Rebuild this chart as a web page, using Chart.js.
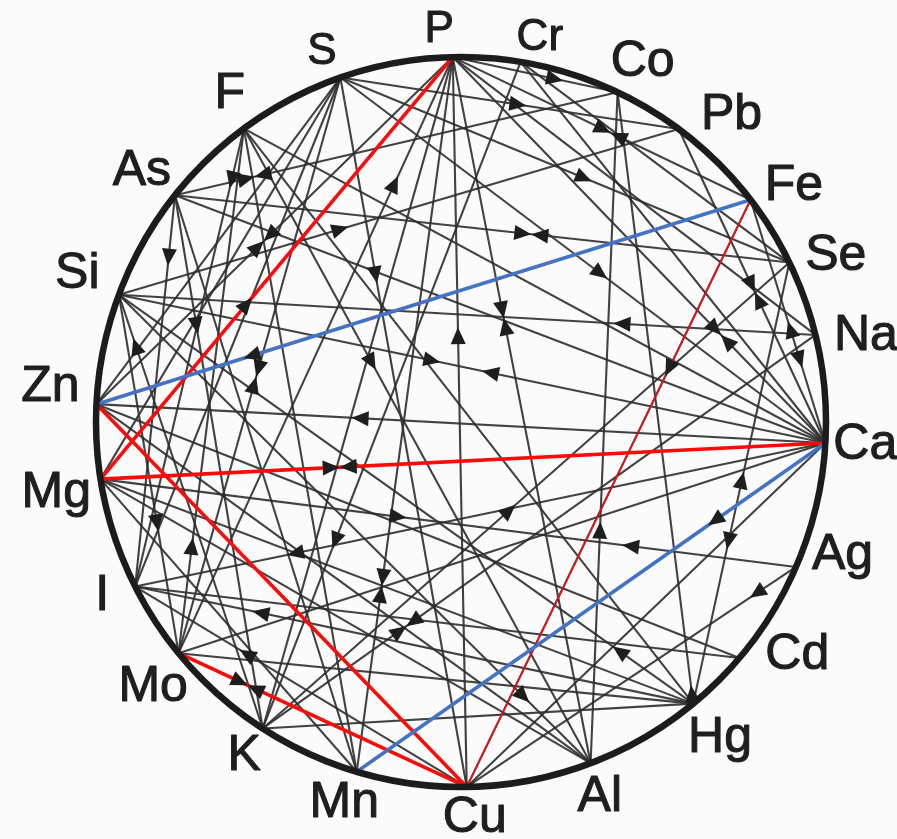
<!DOCTYPE html>
<html>
<head>
<meta charset="utf-8">
<script src="https://cdn.jsdelivr.net/npm/chart.js@4/dist/chart.umd.min.js"></script>
<style>
  html, body { margin: 0; padding: 0; background: #fbfbfb; }
  #wrap { width: 897px; height: 839px; }
</style>
</head>
<body>
<div id="wrap"><canvas id="c" width="897" height="839"></canvas></div>
<script>
// Elements placed around the ring, with their angle (degrees, counter-clockwise from east)
const nodeNames  = ['P','Cr','Co','Pb','Fe','Se','Na','Ca','Ag','Cd','Hg','Al','Cu','Mn','K','Mo','I','Mg','Zn','Si','As','F','S'];
const nodeAngles = [91.3,80.6,64.6,53.4,37.5,25.9,13.8,-3.3,-23.4,-40.3,-50.5,-69.2,-89.1,-106.6,-122.9,-140.7,-153.2,-171,177.2,159.6,141.6,126.5,109.3];
// Label placement: angle and distance from the ring centre (px)
const labelAngles = [93.2,78.4,63.2,48.6,35.3,23.9,12,-3.3,-19.2,-34.7,-50.7,-69.7,-88,-107,-123,-139.3,-154.1,-170,175.1,159,141.8,125.2,110.6];
const labelDist   = [393,392,403,409,408,410,414,405,404,409,409,400,396,399,398,406,399,411,412,411,406,401,395];

// Interaction chords between elements
const links = [
  ['P','Mg'],['P','Cu'],['P','Al'],['P','Co'],['P','Fe'],['P','Ca'],['P','Mn'],['P','Zn'],['P','Mo'],['P','Na'],['P','K'],
  ['S','Cu'],['S','Pb'],['S','Se'],['S','Ca'],['S','Mo'],['S','Zn'],['S','Mg'],['S','I'],
  ['As','Se'],['As','Co'],['As','Ca'],['As','I'],['As','K'],
  ['Si','Pb'],['Si','Ca'],['Si','Na'],['Si','K'],['Si','Mo'],['Si','Hg'],['Si','Al'],
  ['F','I'],['F','Ca'],['F','Al'],['F','Mo'],['F','Hg'],['F','Mn'],
  ['Zn','Ca'],['Zn','Fe'],['Zn','Cd'],['Zn','Cu'],['Zn','Al'],
  ['Mg','Ca'],['Mg','Ag'],['Mg','Hg'],['Mg','Mn'],['Mg','Al'],
  ['I','Ca'],['I','Hg'],['I','Cu'],['I','Cd'],
  ['Mo','Cu'],['Mo','Hg'],['Mo','Ca'],
  ['K','Na'],['K','Se'],['K','Cr'],['K','Hg'],
  ['Mn','Ca'],['Mn','As'],
  ['Cu','Fe'],['Cu','Ag'],['Cu','Ca'],
  ['Fe','Ca'],['Pb','Ca'],['Cr','Ca'],['Se','Hg'],['Hg','Co'],['Al','Co'],['Cr','Se']
];

// Direction marks: [source, target, fraction along the chord where the tip sits]
const arrows = [
  ['Cu','P',0.63], ['P','Al',0.37], ['Al','P',0.63], ['S','Cu',0.29], ['S','Pb',0.55],
  ['P','Co',0.67], ['P','Fe',0.53], ['Fe','P',0.47], ['S','Se',0.56],
  ['As','Se',0.58], ['Se','As',0.42], ['Si','Pb',0.41], ['Mo','P',0.80],
  ['As','Co',0.18], ['Co','As',0.82], ['F','I',0.13], ['Zn','P',0.47], ['P','Zn',0.53],
  ['As','I',0.18], ['K','Si',0.90], ['As','K',0.26], ['S','Mo',0.52], ['Mo','S',0.48],
  ['Ca','Zn',0.65], ['Si','Ca',0.455], ['Ca','Si',0.486], ['Mg','Ag',0.44], ['K','Se',0.48],
  ['Fe','Cu',0.30], ['P','Ca',0.72], ['Ca','P',0.28], ['S','Ca',0.55],
  ['Ca','Fe',0.50], ['Fe','Ca',0.69], ['Pb','Ca',0.52], ['Ca','Pb',0.48], ['Na','Si',0.29],
  ['Se','Hg',0.65], ['Hg','Se',0.525], ['Ag','Mg',0.25], ['Ca','Mn',0.25], ['Ag','Cu',0.14],
  ['Hg','Si',0.14], ['Hg','Co',0.03], ['Si','Al',0.87], ['Ca','I',0.78], ['Hg','I',0.79],
  ['Cu','I',0.685], ['Mo','Cu',0.24], ['Cu','Mo',0.76], ['Si','Mo',0.66], ['Mo','F',0.22],
  ['K','Na',0.26], ['Na','K',0.74], ['P','Mn',0.74], ['Mn','P',0.26], ['Mg','Ca',0.33], ['Ca','Mg',0.67],
  ['Cr','K',0.73], ['F','Al',0.38], ['Al','Co',0.36], ['Fe','Zn',0.775], ['Mg','P',0.43]
];

// Highlighted pathways
const redLinks = [['P','Mg'],['Zn','Cu'],['Mg','Ca'],['Mo','Cu']];
const thinRedLinks = [['Cu','Fe']];
const blueLinks = [['Zn','Fe'],['Mn','Ca']];

// ---- geometry in data units (ring radius = 1) ----
const W = 897, H = 839, CX = 461, CY = 422, RPX = 365;
const xMin = -CX / RPX, xMax = (W - CX) / RPX;
const yMax = CY / RPX, yMin = -(H - CY) / RPX;

const rad = d => d * Math.PI / 180;
const nodePos = {};
nodeNames.forEach((n, i) => {
  nodePos[n] = { x: Math.cos(rad(nodeAngles[i])), y: Math.sin(rad(nodeAngles[i])) };
});

function chordDataset(pair, color, width, order) {
  return {
    data: [nodePos[pair[0]], nodePos[pair[1]]],
    showLine: true,
    borderColor: color,
    borderWidth: width,
    pointRadius: 0,
    pointHoverRadius: 0,
    borderCapStyle: 'round',
    fill: false,
    order: order
  };
}

const datasets = [];
blueLinks.forEach(p => datasets.push(chordDataset(p, '#4472c4', 3.6, 0)));
redLinks.forEach(p => datasets.push(chordDataset(p, '#ff0a0a', 3.6, 0)));
thinRedLinks.forEach(p => datasets.push(chordDataset(p, '#ff0a0a', 1.5, 0)));
links.forEach(p => datasets.push(chordDataset(p, 'rgba(45,45,45,0.9)', 2.1, 1)));

const ringPlugin = {
  id: 'ringAndMarks',
  afterDatasetsDraw(chart) {
    const { ctx, scales: { x, y } } = chart;
    const cx = x.getPixelForValue(0), cy = y.getPixelForValue(0);
    const r = x.getPixelForValue(1) - cx;
    const px = n => ({ x: x.getPixelForValue(nodePos[n].x), y: y.getPixelForValue(nodePos[n].y) });

    ctx.save();
    // outer ring
    ctx.beginPath();
    ctx.arc(cx, cy, r, 0, Math.PI * 2);
    ctx.lineWidth = 6.5;
    ctx.strokeStyle = '#1c1c1c';
    ctx.stroke();

    // arrowheads
    ctx.fillStyle = '#1e1e1e';
    const L = 17, HW = 7.5;
    arrows.forEach(([a, b, t]) => {
      const p = px(a), q = px(b);
      const dx = q.x - p.x, dy = q.y - p.y, len = Math.hypot(dx, dy);
      const ux = dx / len, uy = dy / len;
      const tx = p.x + dx * t, ty = p.y + dy * t;
      const bx = tx - ux * L, by = ty - uy * L;
      ctx.beginPath();
      ctx.moveTo(tx, ty);
      ctx.lineTo(bx - uy * HW, by + ux * HW);
      ctx.lineTo(bx + uy * HW, by - ux * HW);
      ctx.closePath();
      ctx.fill();
    });

    // element labels
    ctx.fillStyle = '#1f1f1f';
    ctx.strokeStyle = '#1f1f1f';
    ctx.lineWidth = 1.1;
    ctx.lineJoin = 'round';
    ctx.textAlign = 'center';
    ctx.textBaseline = 'middle';
    const small = { P: 1, Cr: 1, S: 1 };
    nodeNames.forEach((n, i) => {
      const a = rad(labelAngles[i]);
      const d = labelDist[i] / RPX;
      const lx = x.getPixelForValue(Math.cos(a) * d);
      const ly = y.getPixelForValue(Math.sin(a) * d);
      ctx.font = (small[n] ? 44 : 50) + 'px "Liberation Sans", Arial, sans-serif';
      ctx.fillText(n, lx, ly);
      ctx.strokeText(n, lx, ly);
    });
    ctx.restore();
  }
};

new Chart(document.getElementById('c'), {
  type: 'scatter',
  data: { datasets },
  options: {
    responsive: false,
    animation: false,
    devicePixelRatio: 1,
    layout: { padding: 0 },
    events: [],
    plugins: { legend: { display: false }, tooltip: { enabled: false } },
    scales: {
      x: { type: 'linear', min: xMin, max: xMax, display: false },
      y: { type: 'linear', min: yMin, max: yMax, display: false }
    }
  },
  plugins: [ringPlugin]
});
</script>
</body>
</html>
